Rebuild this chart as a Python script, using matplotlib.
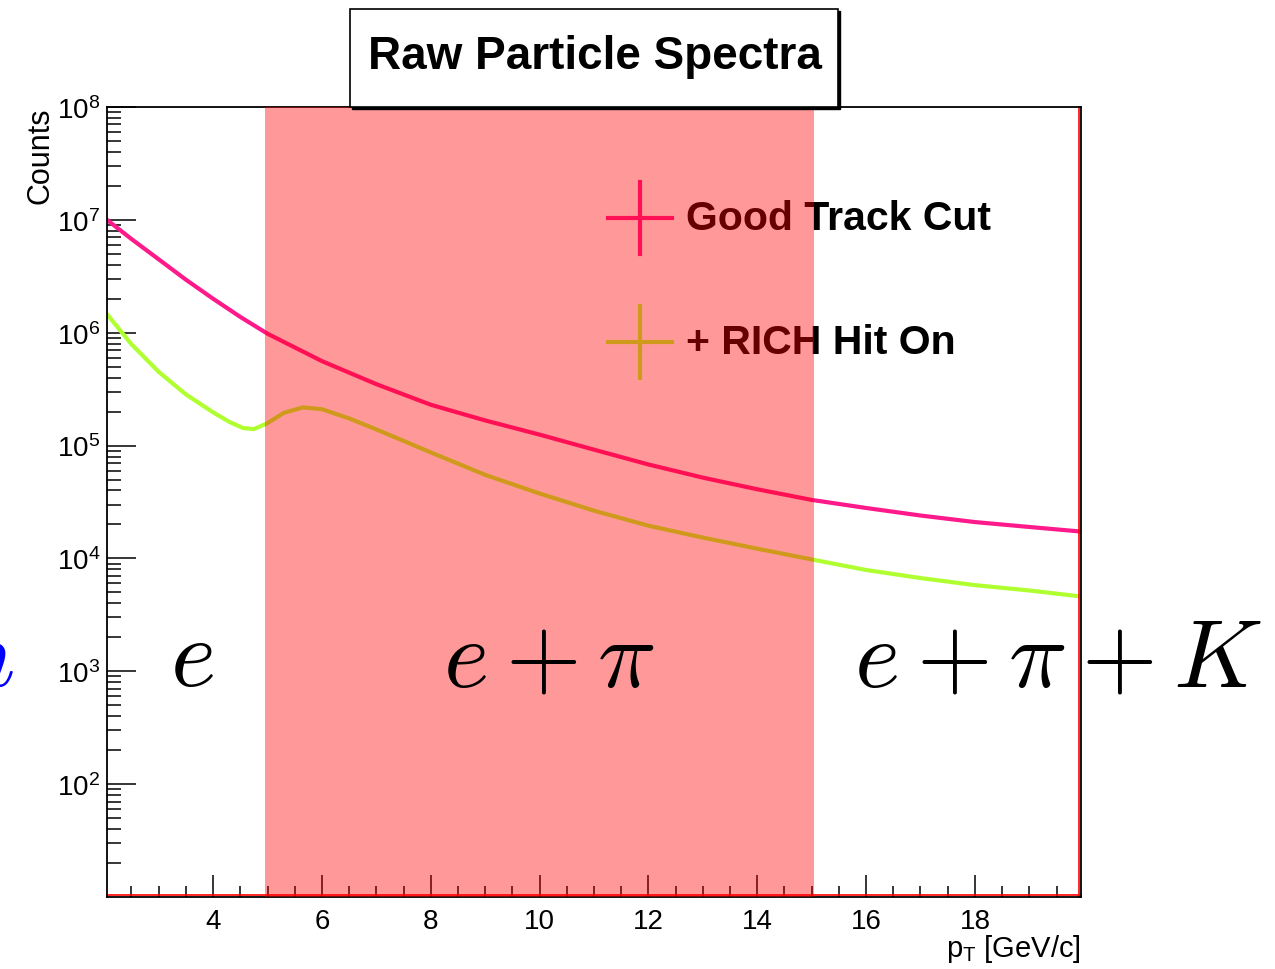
import matplotlib
matplotlib.use('Agg')
import matplotlib.pyplot as plt
from matplotlib.patches import Rectangle
from matplotlib.ticker import LogLocator, LogFormatterMathtext, MultipleLocator, NullFormatter

plt.rcParams['font.family'] = ['Liberation Sans', 'DejaVu Sans']
plt.rcParams['mathtext.fontset'] = 'cm'

# Spektra lesin af myndinni
pt_good = [2.05, 2.5, 3, 3.5, 4, 4.5, 5, 6, 7, 8, 9, 10, 11, 12, 13, 14, 15, 16, 17, 18, 19, 19.95]
good_track = [1.0e7, 6.76e6, 4.47e6, 2.95e6, 2.0e6, 1.38e6, 9.8e5, 5.6e5, 3.5e5, 2.3e5, 1.67e5,
              1.25e5, 9.2e4, 6.8e4, 5.2e4, 4.1e4, 3.3e4, 2.8e4, 2.4e4, 2.1e4, 1.9e4, 1.73e4]

pt_rich = [2.05, 2.5, 3, 3.5, 4, 4.3, 4.55, 4.75, 5.0, 5.3, 5.65, 6.0, 6.5, 7, 8, 9, 10, 11, 12,
           13, 14, 15, 16, 17, 18, 19, 19.95]
rich_hit = [1.46e6, 7.9e5, 4.5e5, 2.84e5, 1.97e5, 1.62e5, 1.43e5, 1.40e5, 1.58e5, 1.95e5, 2.18e5,
            2.1e5, 1.74e5, 1.39e5, 8.7e4, 5.5e4, 3.76e4, 2.65e4, 1.95e4, 1.53e4, 1.22e4, 9.8e3,
            7.9e3, 6.7e3, 5.8e3, 5.2e3, 4.6e3]

band = (4.96, 15.05)
labels = ['Good Track Cut', '+ RICH Hit On']
col_good = '#ff1a8c'
col_rich = '#b0ff30'

W, H = 1275, 970
fig = plt.figure(figsize=(W / 100, H / 100), dpi=100)
ax = fig.add_axes([107 / W, 1 - 898 / H, 974 / W, 790 / H])

ax.plot(pt_good, good_track, color=col_good, lw=3, zorder=2)
ax.plot(pt_rich, rich_hit, color=col_rich, lw=3, zorder=2)

ax.set_yscale('log')
ax.set_xlim(2.05, 19.95)
ax.set_ylim(10, 1e8)

ax.set_xticks([4, 6, 8, 10, 12, 14, 16, 18])
ax.xaxis.set_minor_locator(MultipleLocator(0.5))
ax.set_yticks([1e2, 1e3, 1e4, 1e5, 1e6, 1e7, 1e8])
ax.yaxis.set_minor_locator(LogLocator(base=10, subs=range(2, 10), numticks=20))
ax.yaxis.set_major_formatter(LogFormatterMathtext())
ax.yaxis.set_minor_formatter(NullFormatter())

ax.tick_params(axis='x', which='major', direction='in', length=16, width=1.1, labelsize=20, pad=8)
ax.tick_params(axis='x', which='minor', direction='in', length=8, width=1.1)
ax.tick_params(axis='y', which='major', direction='in', length=21, width=1.1, labelsize=20, pad=5)
ax.tick_params(axis='y', which='minor', direction='in', length=10, width=1.1)
for s in ax.spines.values():
    s.set_linewidth(1.3)

# rauðar línur á ramma
ax.plot([0, 1], [0.002, 0.002], color='red', lw=1.2, transform=ax.transAxes, clip_on=False, zorder=2)
ax.plot([0.998, 0.998], [0, 1], color='red', lw=1.2, transform=ax.transAxes, clip_on=False, zorder=2)

# skýringar
def ax_x(px):
    return (px - 107) / 974

def ax_y(py):
    return (898 - py) / 790

for lab, col, cy in [(labels[0], col_good, 219), (labels[1], col_rich, 343)]:
    ax.plot([ax_x(608), ax_x(672)], [ax_y(cy), ax_y(cy)], color=col, lw=3,
            transform=ax.transAxes, clip_on=False, zorder=2)
    ax.plot([ax_x(640), ax_x(640)], [ax_y(cy - 36), ax_y(cy + 36)], color=col, lw=3,
            transform=ax.transAxes, clip_on=False, zorder=2)
    ax.text(ax_x(686), ax_y(cy), lab, transform=ax.transAxes, ha='left', va='center',
            fontsize=29.5, fontweight='bold', zorder=2)

# rauða svæðið
ax.axvspan(band[0], band[1], color='red', alpha=0.4, lw=0, zorder=4)

# agnategundir
fig.text(192 / W, 1 - 686 / H, r'$e$', fontsize=70, ha='center', va='baseline', zorder=5)
fig.text(549 / W, 1 - 686 / H, r'$e+\pi$', fontsize=70, ha='center', va='baseline', zorder=5)
fig.text(1058 / W, 1 - 686 / H, r'$e+\pi+K$', fontsize=70, ha='center', va='baseline', zorder=5)
fig.text(14 / W, 1 - 686 / H, r'$n$', fontsize=70, ha='right', va='baseline', color='blue', zorder=5)

# ásaheiti
fig.text(40 / W, 1 - 108 / H, 'Counts', rotation=90, ha='center', va='top', fontsize=22)
fig.text(1081 / W, 1 - 949 / H, r'$\mathdefault{p_T}$ [GeV/c]', ha='right', va='center', fontsize=21)

# titill
fig.add_artist(Rectangle((352 / W, 1 - 110 / H), 488 / W, 98 / H, transform=fig.transFigure,
                         facecolor='black', edgecolor='black', zorder=3))
fig.add_artist(Rectangle((350 / W, 1 - 108 / H), 488 / W, 98 / H, transform=fig.transFigure,
                         facecolor='white', edgecolor='black', lw=1.2, zorder=3))
fig.text(595 / W, 1 - 57 / H, 'Raw Particle Spectra', ha='center', va='center',
         fontsize=33, fontweight='bold', zorder=4)

plt.savefig('out.png', dpi=100)
plt.close()
